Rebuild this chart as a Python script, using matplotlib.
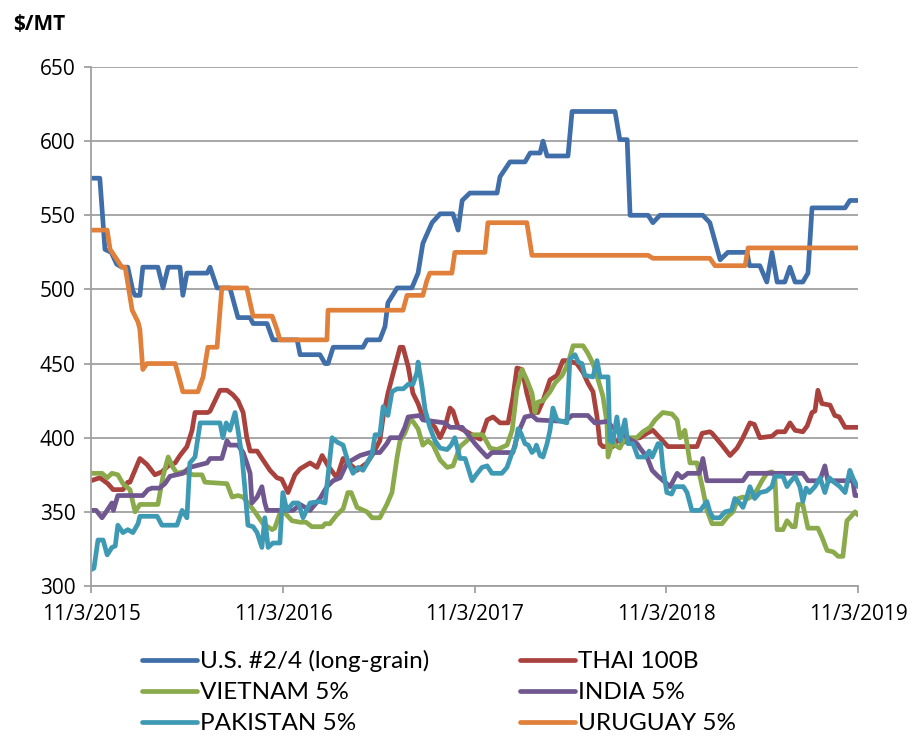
import numpy as np
import pandas as pd
import matplotlib
matplotlib.use("Agg")
import matplotlib.pyplot as plt

# weeks since 11/3/2015, price in $/MT
us = [(0, 575), (2.4, 575), (3.8, 527), (5.5, 525), (7, 517), (8.4, 515), (10, 515), (11.4, 499),
      (12, 496), (13.3, 496), (14.1, 515), (18.2, 515), (19.6, 501), (21, 515), (24.2, 515), (25, 496),
      (26.1, 511), (31.6, 511), (32.4, 515), (34.3, 501), (37.8, 501), (40, 481), (43.3, 481),
      (44.1, 477), (47.9, 477), (49.5, 466), (56.1, 466), (56.9, 456), (62.3, 456), (63.7, 450),
      (64.5, 450), (65.9, 461), (74, 461), (75.1, 466), (78.6, 466), (80, 475), (80.8, 491),
      (83.3, 501), (87.3, 501), (89, 511), (90.3, 531), (92.8, 545), (95, 551), (98.5, 551),
      (99.9, 540), (101, 560), (103.1, 565), (110.5, 565), (111.3, 576), (114, 586), (118.1, 586),
      (119.5, 592), (122.2, 592), (123, 600), (124.1, 590), (129.8, 590), (130.9, 620), (142.6, 620),
      (143.9, 601), (145.9, 601), (146.7, 550), (151.6, 550), (152.9, 545), (154.8, 550), (166.5, 550),
      (168.4, 545), (171.2, 520), (173.3, 525), (178.5, 525), (179.2, 516), (182, 516), (183.9, 505),
      (185.3, 525), (186.7, 505), (188.8, 505), (190.2, 515), (191.6, 505), (193.7, 505), (195.1, 511),
      (196.2, 555), (205.2, 555), (206.5, 560), (208.7, 560)]

thai = [(0, 371), (2.4, 373), (4.6, 369), (6, 365), (8.7, 365), (10, 370), (10.6, 370), (13.3, 386),
        (15.2, 382), (17.4, 375), (19.3, 377), (21, 381), (22.9, 383), (24.2, 388), (26.1, 394),
        (27.5, 405), (28.3, 417), (31.8, 417), (32.4, 418), (35.1, 432), (37, 432), (38.6, 429),
        (40, 425), (41.4, 417), (42.4, 400), (43.3, 391), (45.2, 391), (46.8, 385), (48.7, 378),
        (50.6, 373), (51.9, 372), (53.6, 363), (54.7, 370), (55.5, 375), (56.9, 379), (59.6, 383),
        (61.5, 380), (62.9, 388), (64.5, 381), (66.9, 373), (68.6, 386), (72.4, 378), (75.1, 383),
        (76.7, 389), (78.6, 398), (79.5, 414), (80.8, 430), (82.7, 448), (84.1, 461), (84.9, 461),
        (86.3, 448), (87.6, 430), (89, 423), (90.3, 414), (91.7, 412), (93.6, 407), (95, 400),
        (96.3, 407), (97.7, 420), (98.5, 418), (99.9, 407), (102.3, 404), (105, 400), (106, 399),
        (107.8, 412), (109.4, 414), (111.3, 410), (113.5, 410), (114.8, 427), (115.9, 447),
        (117.3, 446), (118.6, 430), (120, 417), (121.6, 417), (123, 425), (124.9, 439), (126.8, 442),
        (128.4, 452), (130, 452), (132.2, 450), (133.9, 444), (135.2, 437), (136.6, 431), (137.7, 414),
        (138.5, 396), (139.3, 394), (142, 394), (143.1, 398), (145, 397), (146.7, 399), (149.4, 400),
        (151.3, 403), (152.9, 405), (154.8, 400), (157, 394), (164.9, 394), (166.3, 403), (168.4, 404),
        (169, 403), (171.7, 395), (173.9, 388), (175.8, 393), (177.4, 400), (179.3, 410), (180.5, 409),
        (182, 400), (185.3, 401), (186.7, 404), (188.8, 404), (190.2, 410), (191.6, 405), (193.7, 404),
        (194.9, 408), (196.2, 417), (197, 418), (197.8, 432), (198.9, 423), (201.1, 422), (202.4, 415),
        (203.6, 414), (205.2, 407), (208.7, 407)]

vietnam = [(0, 376), (3, 376), (4.4, 373), (5.7, 376), (7.3, 375), (8.7, 369), (10.6, 365), (12, 350),
           (13.3, 355), (18.2, 355), (19.6, 374), (21, 387), (22.3, 380), (23.4, 376), (25, 377),
           (27.8, 375), (30.2, 375), (31, 370), (37, 369), (38.4, 360), (40, 361), (41.4, 360),
           (42.7, 356), (44.6, 350), (46.8, 342), (49.3, 338), (50, 339), (51.4, 349), (52.5, 350),
           (54.7, 344), (56.9, 343), (58.5, 343), (60.1, 340), (63, 340), (63.7, 342), (65, 342),
           (66.9, 348), (68.6, 352), (69.9, 363), (70.8, 363), (72.4, 353), (75.1, 350), (76.5, 346),
           (78.6, 346), (80.5, 355), (81.9, 363), (83.3, 387), (84.1, 398), (85.4, 403), (86.8, 412),
           (87.6, 411), (89, 406), (90.3, 395), (91.7, 398), (93.1, 395), (95, 385), (96.9, 380),
           (98.5, 381), (100.4, 394), (102.3, 398), (103.9, 402), (106.6, 402), (107.5, 398),
           (108.6, 393), (110.5, 392), (113.2, 395), (114.6, 405), (115.9, 432), (117.3, 446),
           (118.6, 439), (120, 430), (120.8, 417), (121.6, 424), (123, 425), (124.9, 431), (126.3, 437),
           (128.2, 442), (129.8, 450), (131.2, 462), (133.9, 462), (135.2, 457), (136.6, 450),
           (138, 439), (139.3, 428), (140.4, 410), (140.7, 387), (142, 398), (142.6, 395), (143.9, 393),
           (145.3, 400), (148.5, 400), (150.2, 404), (152.1, 407), (153.5, 412), (155.6, 417),
           (158.1, 416), (159.5, 412), (160.3, 400), (161.6, 405), (163, 383), (164.9, 383),
           (166.5, 365), (167.6, 351), (169, 342), (171.7, 342), (173.3, 347), (174.7, 350),
           (176.1, 359), (177.4, 360), (178.8, 359), (180.3, 361), (181.5, 366), (182.6, 371),
           (183.9, 376), (185.3, 377), (186.1, 375), (186.7, 338), (188.3, 338), (189.4, 344),
           (190.8, 340), (191.6, 340), (192.4, 355), (193.7, 355), (195.1, 339), (197.8, 339),
           (198.9, 333), (200.3, 324), (202, 323), (203.3, 320), (204.6, 320), (205.7, 344),
           (206.5, 346), (207.9, 350), (208.7, 348)]

india = [(0, 351), (1.4, 351), (3, 346), (4.4, 351), (5.7, 356), (6.1, 351), (7.3, 361), (14.1, 361),
         (15.5, 365), (16.6, 366), (18.6, 366), (20.1, 369), (21.5, 374), (25, 376), (26.9, 380),
         (31.6, 383), (32.4, 386), (35.6, 386), (37, 398), (37.8, 395), (40, 395), (41.4, 390),
         (42.4, 383), (43.3, 376), (43.8, 356), (45.2, 360), (46.5, 367), (47.3, 356), (47.9, 351),
         (55, 351), (56.9, 355), (59.6, 351), (62.3, 359), (64.2, 367), (65.9, 371), (67.8, 373),
         (69.7, 383), (73.2, 388), (75.9, 390), (78.6, 390), (80.5, 396), (81.4, 400), (84.1, 400),
         (85.4, 407), (86.3, 414), (89.5, 415), (90.3, 412), (96.3, 410), (97.7, 407), (101, 407),
         (102.3, 403), (104.5, 396), (105.9, 392), (107.8, 387), (109.1, 390), (114.8, 390),
         (116.2, 403), (118.1, 414), (120, 415), (121.4, 412), (129, 411), (130.9, 415), (135.2, 415),
         (137.1, 410), (140.7, 411), (141.8, 407), (143.9, 405), (145.9, 400), (148.6, 396),
         (149.4, 393), (151.3, 387), (152.7, 378), (154.3, 374), (156.2, 370), (157.6, 367),
         (159.5, 376), (160.8, 373), (162.4, 376), (165.5, 376), (166.5, 386), (167.6, 371),
         (177.4, 371), (178.8, 376), (193.7, 376), (195.1, 371), (198.3, 371), (199.7, 381),
         (200.5, 371), (207.3, 371), (207.9, 361), (208.7, 361)]

pakistan = [(0, 311), (0.8, 312), (1.9, 331), (3.3, 331), (4.4, 321), (5.7, 326), (6.6, 327), (7.3, 341),
            (8.7, 336), (10, 338), (11.4, 336), (12.8, 342), (13.3, 347), (18, 347), (19.3, 341),
            (23.4, 341), (24.8, 351), (26.1, 346), (26.9, 383), (28.3, 387), (29.7, 410), (35.1, 410),
            (35.9, 400), (36.8, 410), (37.8, 405), (39.2, 417), (40, 405), (41.1, 387), (41.9, 365),
            (42.7, 341), (44.1, 340), (45.2, 336), (46.5, 326), (47.3, 346), (48.2, 326), (49.5, 329),
            (51.4, 329), (52.2, 363), (53.3, 351), (55, 356), (56.4, 356), (57.7, 346), (59.6, 356),
            (62.3, 357), (63.7, 356), (65.6, 400), (67, 397), (68.6, 395), (69.9, 384), (71.3, 376),
            (72.7, 380), (74, 378), (75.4, 384), (76.5, 389), (77.3, 402), (78.6, 402), (79.5, 421),
            (80.8, 415), (81.9, 431), (83.3, 433), (85, 433), (86.3, 436), (87.6, 436), (88.7, 444),
            (89, 451), (90.1, 434), (90.9, 419), (92.2, 407), (93.6, 398), (95, 393), (96.9, 392),
            (98, 395), (99, 400), (100.4, 386), (101.8, 386), (103.7, 371), (104.8, 375), (106.4, 380),
            (107.8, 381), (108.6, 378), (109.1, 376), (111.8, 376), (113.2, 380), (114.6, 390),
            (115.4, 394), (116.2, 406), (117, 403), (118.1, 396), (119, 395), (120, 390), (120.8, 392),
            (121.2, 395), (122.2, 388), (123, 387), (124.1, 396), (124.9, 405), (125.7, 420),
            (126.8, 412), (128.1, 411), (129.5, 410), (130.3, 453), (131.7, 456), (132.6, 451),
            (133.6, 450), (134.4, 442), (136.6, 441), (137.7, 452), (138.5, 441), (140.7, 441),
            (141.2, 398), (142, 397), (143.1, 414), (144, 398), (145.3, 412), (146.1, 396), (147.5, 396),
            (148.8, 387), (150.8, 387), (151.9, 391), (152.7, 387), (154.3, 396), (155, 396),
            (155.6, 380), (156.7, 363), (158, 362), (158.9, 367), (161.2, 367), (162.2, 363),
            (163.5, 351), (165.8, 351), (167.6, 357), (168.4, 350), (169.3, 346), (171.1, 346),
            (172.5, 350), (174.3, 351), (175.2, 359), (176.5, 356), (177.4, 353), (178.3, 359),
            (179.3, 367), (180.6, 359), (182, 363), (183.8, 364), (185.3, 367), (186.1, 374),
            (188.3, 374), (189.4, 367), (190.2, 370), (191.6, 374), (192.9, 367), (193.7, 357),
            (194.6, 366), (195.5, 363), (197, 367), (198.4, 373), (199.7, 363), (200.9, 373),
            (202.2, 370), (203.8, 367), (205.2, 363), (206.5, 378), (207.3, 373), (208.1, 369),
            (208.7, 367)]

uruguay = [(0, 540), (4.4, 540), (5.2, 527), (7.1, 520), (8.4, 515), (9.3, 515), (11.2, 486),
           (12.8, 478), (13.3, 473), (14.1, 446), (15.2, 450), (22.9, 450), (25, 431), (29.1, 431),
           (30.5, 441), (31.8, 461), (34.3, 461), (35.6, 501), (42.4, 501), (44.1, 482), (49.3, 482),
           (50.6, 473), (51.4, 466), (64.2, 466), (64.5, 486), (84.9, 486), (86, 496), (90.3, 496),
           (91.4, 506), (92.2, 511), (98.2, 511), (99, 525), (107.2, 525), (108, 545), (118.6, 545),
           (120, 523), (151.6, 523), (152.9, 521), (168.4, 521), (169.8, 516), (178, 516),
           (178.8, 528), (208.7, 528)]

names = ["U.S. #2/4 (long-grain)", "THAI 100B", "VIETNAM 5%", "INDIA 5%", "PAKISTAN 5%", "URUGUAY 5%"]
colors = ["#3F6EA9", "#A9413D", "#8AAA4B", "#71578F", "#3E9AB4", "#E0803A"]
year_ticks = ["2015-11-03", "2016-11-03", "2017-11-03", "2018-11-03", "2019-11-03"]

start = pd.Timestamp("2015-11-03")

fig = plt.figure(figsize=(9.2, 7.36), dpi=100)
ax = fig.add_axes([91 / 920, 1 - 586 / 736, (858 - 91) / 920, (586 - 67) / 736])

lines = {}
for name, series, col in zip(names, [us, thai, vietnam, india, pakistan, uruguay], colors):
    w = np.array([p[0] for p in series])
    v = np.array([p[1] for p in series])
    d = start + pd.to_timedelta(w * 7, unit="D")
    ln, = ax.plot(d, v, color=col, lw=3.4, solid_joinstyle="round", solid_capstyle="round", label=name)
    lines[name] = ln

grid_col = "#A0A0A0"
ax.set_ylim(300, 650)
ax.set_yticks(range(300, 651, 50))
ticks = pd.to_datetime(year_ticks)
ax.set_xlim(ticks[0], ticks[-1])
ax.set_xticks(ticks)
ax.set_xticklabels([f"{t.month}/{t.day}/{t.year}" for t in ticks])
ax.grid(axis="y", color=grid_col, lw=1.3)
ax.set_axisbelow(True)
for s in ["top", "right"]:
    ax.spines[s].set_visible(False)
for s in ["left", "bottom"]:
    ax.spines[s].set_color(grid_col)
    ax.spines[s].set_linewidth(1.3)
ax.tick_params(axis="both", color=grid_col, width=1.3, length=5, labelsize=15)
ax.tick_params(axis="y", pad=6)
ax.tick_params(axis="x", pad=8)
for lab in ax.get_xticklabels() + ax.get_yticklabels():
    lab.set_family(["Open Sans", "DejaVu Sans"])

fig.text(13 / 920, 1 - 24 / 736, "$/MT", fontsize=15, fontweight="bold",
         family=["Open Sans", "DejaVu Sans"], va="center", ha="left")

order = ["U.S. #2/4 (long-grain)", "VIETNAM 5%", "PAKISTAN 5%", "THAI 100B", "INDIA 5%", "URUGUAY 5%"]
leg = fig.legend([lines[n] for n in order], order, loc="upper left",
                 bbox_to_anchor=(142 / 920, 1 - 650 / 736), ncol=2, frameon=False,
                 borderpad=0, borderaxespad=0, handlelength=2.25, handletextpad=0.12,
                 columnspacing=3.75, labelspacing=0.41,
                 prop={"family": ["Lato", "Open Sans", "DejaVu Sans"], "size": 17.5})

fig.savefig("out.png", dpi=100)
